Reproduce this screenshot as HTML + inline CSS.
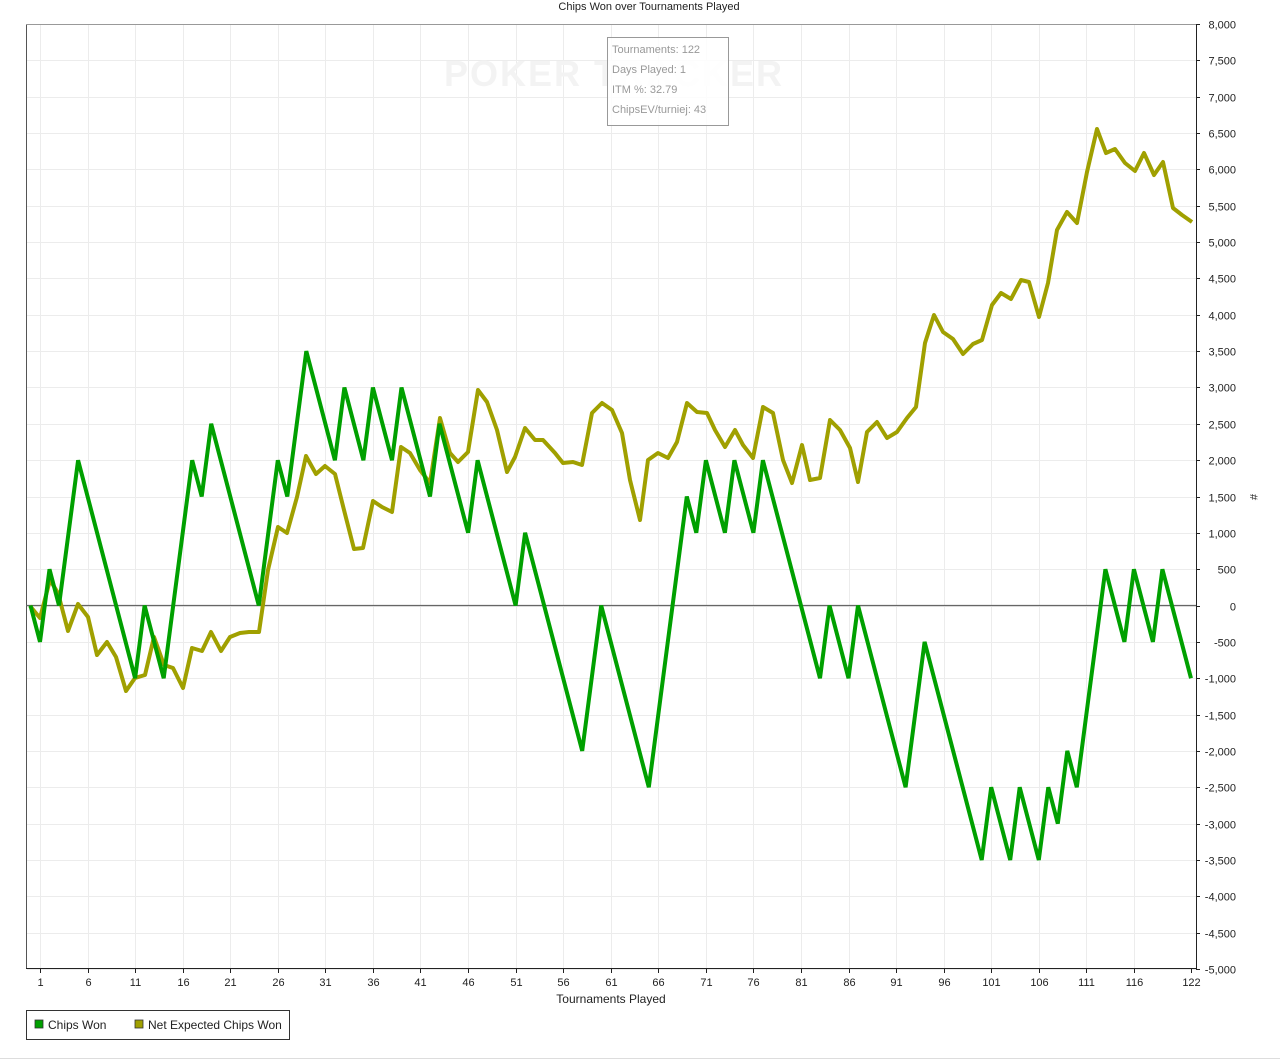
<!DOCTYPE html>
<html><head><meta charset="utf-8"><style>
body{margin:0;background:#fff;}
svg{display:block;font-family:"Liberation Sans",sans-serif;}
</style></head><body>
<svg width="1280" height="1060" viewBox="0 0 1280 1060" xmlns="http://www.w3.org/2000/svg">
<rect width="1280" height="1060" fill="#fff"/>
<text x="649" y="10" font-size="11" text-anchor="middle" fill="#222">Chips Won over Tournaments Played</text>
<g id="grid" stroke="#ececec" stroke-width="1"></g>
<g id="ticks" font-size="11" fill="#222"></g>
<line x1="26.5" y1="24" x2="26.5" y2="969" stroke="#555"/>
<line x1="26" y1="24.5" x2="1196" y2="24.5" stroke="#999"/>
<line x1="1196.5" y1="24" x2="1196.5" y2="969" stroke="#222"/>
<line x1="26" y1="968.5" x2="1196" y2="968.5" stroke="#222"/>
<line x1="26" y1="605.5" x2="1196" y2="605.5" stroke="#666" stroke-width="1.3"/>
<text x="614" y="86" font-size="36" font-weight="bold" fill="#f3f3f3" text-anchor="middle" letter-spacing="2">POKER  TRACKER</text>
<polyline fill="none" stroke="#a0a000" stroke-width="4" stroke-linejoin="round" points="30,606 40,618 50,580 58,593 68,631 78,604 88,617 97,655 107,642 116,657 126,691 135,678 145,675 154,637 164,665 173,668 183,688 192,648 202,651 211,632 221,651 230,637 240,633 249,632 259,632 268,570 278,527 287,533 297,497 306,456 316,474 325,466 335,474 344,510 354,549 363,548 373,501 382,507 392,512 401,447 410,453 420,470 430,483 440,418 450,453 458,462 468,452 478,390 487,402 497,430 507,472 515,457 525,428 535,440 543,440 555,453 563,463 573,462 582,465 592,413 602,403 612,410 622,433 630,480 640,520 648,460 658,453 668,458 677,442 687,403 697,412 707,413 715,430 725,447 735,430 743,445 753,458 763,407 773,413 783,460 792,483 802,445 810,480 820,478 830,420 840,430 850,448 858,482 867,432 877,422 887,438 897,432 907,418 916,407 925,343 934,315 943,332 953,339 963,354 973,344 982,340 992,305 1001,293 1011,299 1021,280 1029,282 1039,317 1048,283 1057,230 1067,212 1077,223 1087,172 1097,129 1106,153 1115,149 1125,163 1135,171 1144,153 1154,175 1163,162 1173,208 1182,215 1192,222"/>
<polyline id="green" fill="none" stroke="#00a000" stroke-width="4" stroke-linejoin="miter"/>
<rect x="607.5" y="37.5" width="121" height="88" fill="#fff" fill-opacity="0.85" stroke="#999"/>
<g font-size="11" fill="#999">
<text x="612" y="53">Tournaments: 122</text>
<text x="612" y="73">Days Played: 1</text>
<text x="612" y="93">ITM %: 32.79</text>
<text x="612" y="113">ChipsEV/turniej: 43</text>
</g>
<text x="611" y="1003" font-size="12" text-anchor="middle" fill="#222">Tournaments Played</text>
<text x="1250" y="497" font-size="11" text-anchor="middle" fill="#222" transform="rotate(90 1250 497)">#</text>
<rect x="26.5" y="1010.5" width="263" height="29" fill="#fff" stroke="#333"/>
<rect x="35" y="1020" width="8" height="8" fill="#00a000" stroke="#333" stroke-width="0.8"/>
<text x="48" y="1029" font-size="12" fill="#222">Chips Won</text>
<rect x="135" y="1020" width="8" height="8" fill="#a0a000" stroke="#333" stroke-width="0.8"/>
<text x="148" y="1029" font-size="12" fill="#222">Net Expected Chips Won</text>
<line x1="0" y1="1058.5" x2="1280" y2="1058.5" stroke="#ddd"/>
</svg>
<script>
(function(){
var ns="http://www.w3.org/2000/svg";
var grid=document.getElementById("grid"),ticks=document.getElementById("ticks");
function el(t,a,p,txt){var e=document.createElementNS(ns,t);for(var k in a)e.setAttribute(k,a[k]);if(txt)e.textContent=txt;p.appendChild(e);return e;}
function X(i){return 30.5+i*9.512;}
function Y(v){return 24+(8000-v)*945/13000;}
for(var v=-5000;v<=8000;v+=500){var y=Math.round(Y(v))+0.5;
 el("line",{x1:27,x2:1196,y1:y,y2:y},grid);
 el("line",{x1:1196,x2:1200,y1:y,y2:y,stroke:"#222"},ticks);
 el("text",{x:1236,y:y+4,"text-anchor":"end"},ticks,(v<0?"-":"")+Math.abs(v).toLocaleString("en-US"));}
for(var i=1;i<=117;i+=5){var x=Math.round(X(i))+0.5;
 el("line",{x1:x,x2:x,y1:25,y2:968},grid);
 el("line",{x1:x,x2:x,y1:969,y2:973,stroke:"#222"},ticks);
 el("text",{x:x,y:986,"text-anchor":"middle"},ticks,String(i));}
var xe=Math.round(X(122))+0.5;el("line",{x1:xe,x2:xe,y1:969,y2:973,stroke:"#222"},ticks);
el("text",{x:xe,y:986,"text-anchor":"middle"},ticks,"122");
var g=[[0,0],[1,-500],[2,500],[3,0],[5,2000],[11,-1000],[12,0],[14,-1000],[17,2000],[18,1500],[19,2500],[24,0],[26,2000],[27,1500],[29,3500],[32,2000],[33,3000],[35,2000],[36,3000],[38,2000],[39,3000],[42,1500],[43,2500],[46,1000],[47,2000],[51,0],[52,1000],[58,-2000],[60,0],[65,-2500],[69,1500],[70,1000],[71,2000],[73,1000],[74,2000],[76,1000],[77,2000],[83,-1000],[84,0],[86,-1000],[87,0],[92,-2500],[94,-500],[100,-3500],[101,-2500],[103,-3500],[104,-2500],[106,-3500],[107,-2500],[108,-3000],[109,-2000],[110,-2500],[113,500],[115,-500],[116,500],[118,-500],[119,500],[122,-1000]];
document.getElementById("green").setAttribute("points",g.map(function(p){return X(p[0]).toFixed(1)+","+Y(p[1]).toFixed(1);}).join(" "));
})();
</script>
</body></html>
